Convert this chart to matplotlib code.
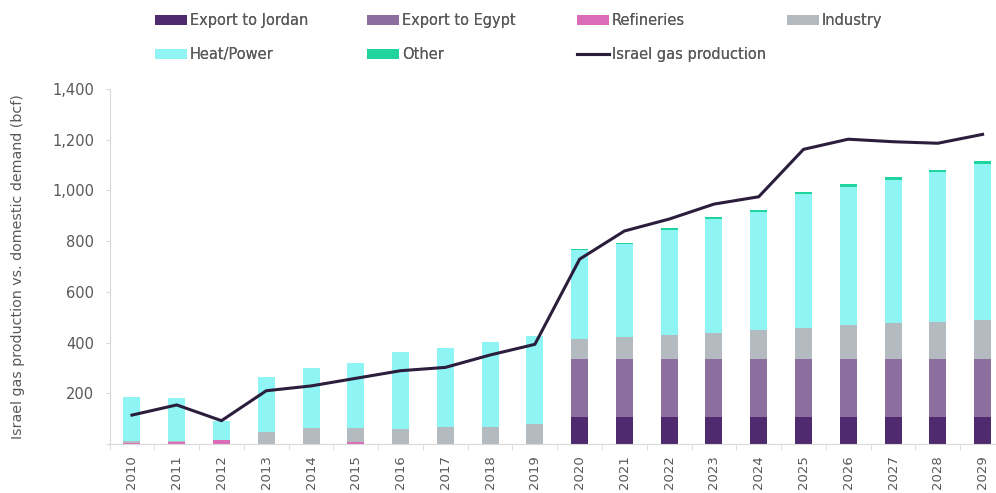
import matplotlib
matplotlib.use("Agg")
import matplotlib.pyplot as plt
import numpy as np
from matplotlib.patches import Patch
from matplotlib.lines import Line2D

years = [str(y) for y in range(2010, 2030)]
export_jordan = [0]*10 + [106]*10
export_egypt = [0]*10 + [230]*10
refineries = [3, 8, 15, 0, 0, 8, 0, 0, 0, 0] + [0]*10
industry = [8, 3, 0, 49, 64, 56, 58, 68, 68, 78, 77, 87, 93, 103, 114, 123, 132, 140, 146, 153]
heat_power = [175, 169, 75, 216, 234, 257, 306, 309, 333, 348, 351, 364, 415, 447, 465, 527, 547, 566, 589, 616]
other = [0]*10 + [6, 7, 7, 8, 8, 9, 10, 10, 10, 11]
production = [114, 154, 92, 210, 229, 259, 289, 302, 351, 393, 729, 840, 887, 946, 975, 1162, 1202, 1192, 1186, 1221]

colors = {
    "Export to Jordan": "#4f2a6e",
    "Export to Egypt": "#8c6f9e",
    "Refineries": "#db6cb8",
    "Industry": "#b3bbc1",
    "Heat/Power": "#8ff4f4",
    "Other": "#1fd49f",
}
line_color = "#2b1e3c"
txt = "#595959"
plt.rcParams['font.family'] = ['DejaVu Sans']

fig = plt.figure(figsize=(9.96, 4.93), dpi=100)
ax = fig.add_axes([0.110, 0.0994, 0.899, 0.7201])

x = np.arange(len(years))
w = 0.38
series = [("Export to Jordan", export_jordan), ("Export to Egypt", export_egypt),
          ("Refineries", refineries), ("Industry", industry),
          ("Heat/Power", heat_power), ("Other", other)]
bottom = np.zeros(len(years))
for name, vals in series:
    v = np.array(vals, dtype=float)
    ax.bar(x, v, w, bottom=bottom, color=colors[name], linewidth=0, zorder=2)
    bottom += v
ax.plot(x, production, color=line_color, lw=2.2, zorder=3, solid_joinstyle='round')

ax.set_xlim(-0.5, len(years) - 0.5)
ax.set_ylim(0, 1400)
ax.set_yticks(range(0, 1401, 200))
ax.set_yticklabels(["" if v == 0 else f"{v:,}" for v in range(0, 1401, 200)])
ax.set_xticks(x)
ax.set_xticklabels(years, rotation=90)
ax.set_xticks(np.arange(-0.5, len(years), 1), minor=True)
ax.tick_params(axis='x', which='major', length=0, labelsize=9.5, colors=txt, pad=8)
ax.tick_params(axis='x', which='minor', length=4, color="#d9d9d9")
ax.tick_params(axis='y', length=3, color="#d9d9d9", labelsize=10.5, labelcolor=txt, pad=8)
for s in ["top", "right"]:
    ax.spines[s].set_visible(False)
for s in ["left", "bottom"]:
    ax.spines[s].set_color("#d9d9d9")
ax.set_ylabel("Israel gas production vs. domestic demand (bcf)", fontsize=10.3, color=txt, labelpad=20)

# legend as four columns
def ph(name):
    return Patch(facecolor=colors[name], edgecolor='none')
cols = [
    ([ph("Export to Jordan"), ph("Heat/Power")], ["Export to Jordan", "Heat/Power"], 155),
    ([ph("Export to Egypt"), ph("Other")], ["Export to Egypt", "Other"], 367),
    ([ph("Refineries"), Line2D([0], [0], color=line_color, lw=2.2)], ["Refineries", "Israel gas production"], 577),
    ([ph("Industry")], ["Industry"], 787),
]
for handles, labels, xp in cols:
    leg = fig.legend(handles, labels, loc='upper left', bbox_to_anchor=(xp / 996, 1 - 13 / 493),
                     frameon=False, fontsize=10.5, handlelength=2.2, handleheight=0.62,
                     handletextpad=0.2, labelspacing=1.32, borderpad=0, borderaxespad=0)
    for t in leg.get_texts():
        t.set_color(txt)
    fig.add_artist(leg)

fig.savefig("out.png", dpi=100)
